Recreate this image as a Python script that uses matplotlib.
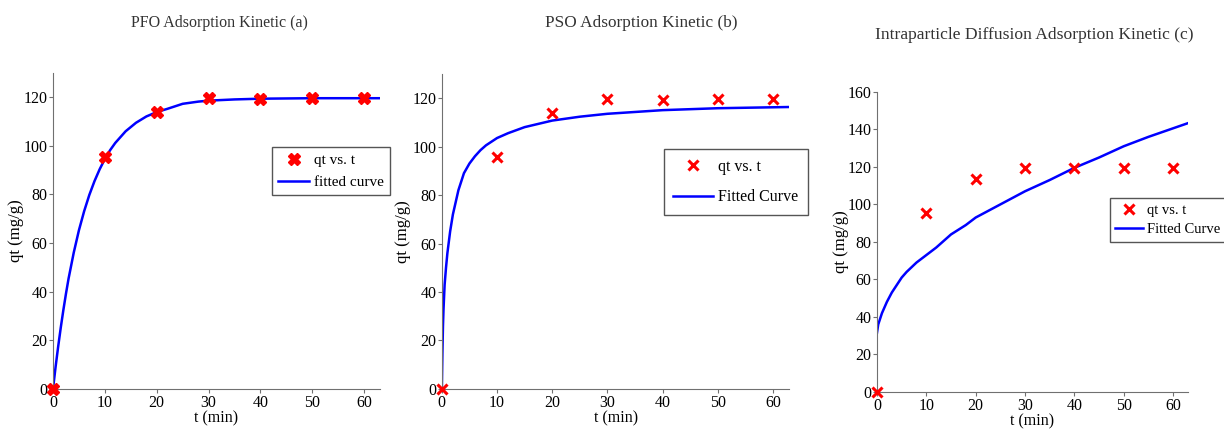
import numpy as np
import matplotlib.pyplot as plt

# experimental points (same for all three panels)
t_exp = [0, 10, 20, 30, 40, 50, 60]
q_exp = [0, 95.5, 113.8, 119.5, 119.2, 119.5, 119.6]

# fitted curves
t_pfo = [0, 0.5, 1, 1.5, 2, 2.5, 3, 4, 5, 6, 7, 8, 9, 10, 11, 12, 14, 16, 18, 20,
         22, 25, 28, 30, 35, 40, 50, 63]
q_pfo = [0, 9.1, 17.5, 25.3, 32.5, 39.2, 45.4, 56.1, 65.3, 73.1, 79.8, 85.5, 90.4, 94.6,
         98.2, 101.2, 106.0, 109.5, 112.1, 113.9, 115.2, 117.3, 118.2, 118.6, 119.1,
         119.4, 119.6, 119.6]

t_pso = [0, 0.05, 0.1, 0.2, 0.3, 0.5, 0.75, 1, 1.5, 2, 2.5, 3, 4, 5, 6, 7, 8, 10, 12,
         15, 20, 25, 30, 40, 50, 63]
q_pso = [0, 8, 15, 26, 33, 43, 50, 56, 65, 72, 77, 82, 89, 93, 96, 98.5, 100.5, 103.5,
         105.5, 108, 110.7, 112.3, 113.5, 115, 115.8, 116.3]

t_ipd = [0, 0.25, 0.5, 1, 1.5, 2, 3, 4, 5, 6, 8, 10, 12, 15, 18, 20, 25, 30, 35, 40,
         45, 50, 55, 63]
q_ipd = [31.6, 36, 38, 42, 45, 48, 53, 57, 61, 64, 69, 73, 77, 84, 89, 93, 100, 107,
         113, 119.5, 125, 131, 136, 143.3]

titles = ['PFO Adsorption Kinetic (a)', 'PSO Adsorption Kinetic (b)',
          'Intraparticle Diffusion Adsorption Kinetic (c)']

plt.rcParams['font.family'] = ['Liberation Serif', 'DejaVu Serif']
plt.rcParams['font.size'] = 11

fig = plt.figure(figsize=(12.24, 4.30), dpi=100)

boxes = [[0.0433, 0.0954, 0.267, 0.735],
         [0.361, 0.0954, 0.284, 0.733],
         [0.7165, 0.0884, 0.254, 0.698]]
curves = [(t_pfo, q_pfo), (t_pso, q_pso), (t_ipd, q_ipd)]
ylims = [130, 130, 160]
labels = ['fitted curve', 'Fitted Curve', 'Fitted Curve']
leg_loc = ['upper right', 'upper right', 'upper left']
leg_anchor = [(1.03, 0.765), (1.052, 0.76), (0.75, 0.645)]
leg_font = [11, 11.5, 10.5]
leg_hl = [2.0, 2.5, 1.9]
leg_pad = [0.4, 0.6, 0.35]
leg_sp = [0.55, 0.9, 0.45]
title_pos = [(0.179, 0.947), (0.524, 0.947), (0.845, 0.918)]
title_size = [11.5, 12.4, 12.6]

for i in range(3):
    ax = fig.add_axes(boxes[i])
    if i == 0:
        ax.plot(t_exp, q_exp, 'X', color='red', ms=9, mec='red', ls='none',
                label='qt vs. t', zorder=3, clip_on=False)
    else:
        ax.plot(t_exp, q_exp, 'x', color='red', ms=7, mew=2.2, ls='none',
                label='qt vs. t', zorder=3, clip_on=False)
    ax.plot(curves[i][0], curves[i][1], color='#0000ff', lw=1.8, label=labels[i])

    ax.set_xlim(0, 63)
    ax.set_ylim(0, ylims[i])
    ax.set_xticks(range(0, 61, 10))
    ax.set_yticks(range(0, 121 if i < 2 else 161, 20))
    for s in ['top', 'right']:
        ax.spines[s].set_visible(False)
    for s in ['left', 'bottom']:
        ax.spines[s].set_color('#707070')
    ax.tick_params(direction='out', length=3, color='#707070', labelsize=11.5, pad=1)
    ax.set_xlabel('t (min)', fontsize=11.5, labelpad=0)
    ax.set_ylabel('qt (mg/g)', fontsize=12)
    ax.yaxis.set_label_coords(-0.089, 0.5)

    leg = ax.legend(loc=leg_loc[i], bbox_to_anchor=leg_anchor[i], fancybox=False,
                    edgecolor='#555555', fontsize=leg_font[i], handlelength=leg_hl[i],
                    handletextpad=0.3, borderpad=leg_pad[i], labelspacing=leg_sp[i],
                    borderaxespad=0, framealpha=1)
    leg.get_frame().set_linewidth(1.0)

    fig.text(title_pos[i][0], title_pos[i][1], titles[i], ha='center', va='center',
             fontsize=title_size[i], color='#333333')

plt.savefig('out.png', dpi=100, facecolor='white')
